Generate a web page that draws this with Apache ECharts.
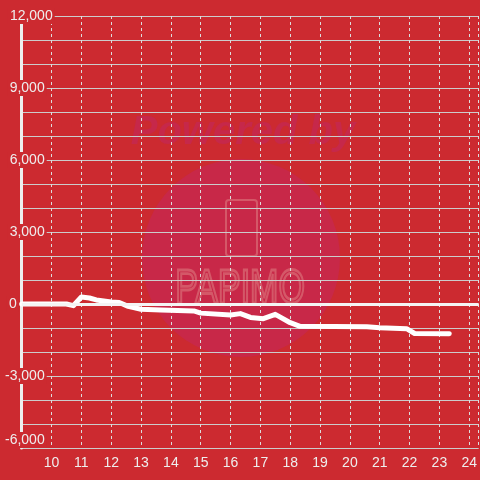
<!DOCTYPE html>
<html>
<head>
<meta charset="utf-8">
<script src="https://cdn.jsdelivr.net/npm/echarts@6/dist/echarts.min.js"></script>
<style>
html,body{margin:0;padding:0;background:#cc2a30;}
#c{width:480px;height:480px;}
</style>
</head>
<body>
<div id="c"></div>
<script>
// Hours of day (decimal) and values
const times  = [9.0, 10.5, 10.73, 11.0, 11.27, 11.5, 12.0, 12.27, 12.57, 13.0, 13.67, 14.77, 15.0, 16.0, 16.33, 16.67, 17.1, 17.5, 18.0, 18.33, 20.57, 21.0, 21.9, 22.17, 23.33];
const values = [0, 0, -70, 290, 250, 170, 80, 60, -100, -220, -250, -290, -380, -460, -400, -560, -610, -430, -780, -930, -950, -990, -1030, -1230, -1240];
const xTicks = [10, 11, 12, 13, 14, 15, 16, 17, 18, 19, 20, 21, 22, 23, 24];
const yLabelValues = [-6000, -3000, 0, 3000, 6000, 9000, 12000];

const BG = '#cc2a30';
const FONT = 'Liberation Sans, Arial, sans-serif';
const chart = echarts.init(document.getElementById('c'), null, {renderer: 'canvas'});

const option = {
  backgroundColor: BG,
  animation: false,
  grid: {left: 20.5, right: 0, top: 16, bottom: 32, containLabel: false},
  graphic: {
    elements: [
      {type: 'circle', shape: {cx: 241, cy: 258, r: 99}, style: {fill: '#c82848'}, z: -10, silent: true},
      {type: 'text', x: 243, y: 133, z: -10, silent: true,
        style: {text: 'Powered by', fill: '#c6284a', font: 'italic bold 40px ' + FONT, align: 'center', verticalAlign: 'middle'}},
      {type: 'rect', shape: {x: 226, y: 200, width: 31, height: 56, r: 3}, z: -10, silent: true,
        style: {fill: 'none', stroke: '#d45868', lineWidth: 2}},
      {type: 'text', x: 240, y: 290, scaleY: 1.4, z: -10, silent: true,
        style: {text: 'PAPIMO', fill: 'none', stroke: '#d45868', lineWidth: 2, font: '34px ' + FONT, align: 'center', verticalAlign: 'middle'}}
    ]
  },
  xAxis: {
    type: 'value',
    min: 9,
    max: 24.317,
    interval: 1,
    axisLine: {show: false},
    axisTick: {show: false},
    axisLabel: {
      showMinLabel: false,
      showMaxLabel: false,
      color: '#eeeeee',
      fontSize: 14,
      fontFamily: FONT,
      margin: 8,
      formatter: function (v) { return xTicks.indexOf(v) >= 0 ? String(v) : ''; }
    },
    splitLine: {show: true, lineStyle: {color: '#dddddd', width: 1, type: [3, 3]}}
  },
  yAxis: {
    type: 'value',
    min: -6000,
    max: 12000,
    interval: 1000,
    axisLine: {show: true, lineStyle: {color: '#eeeeee', width: 3}},
    axisTick: {show: false},
    axisLabel: {
      color: '#eeeeee',
      fontSize: 14,
      fontFamily: FONT,
      align: 'right',
      margin: -33,
      verticalAlignMinLabel: 'bottom',
      formatter: function (v) {
        if (yLabelValues.indexOf(v) < 0) return '';
        const s = v.toLocaleString('en-US');
        if (v === 12000) return '{t|' + s + '}';
        if (v === 0) return '{t|0}{g0|}';
        return '{t|' + s + '}{g|}';
      },
      rich: {
        t: {backgroundColor: BG, padding: [1, 2, 1, 2], color: '#eeeeee', fontSize: 14, fontFamily: FONT},
        g: {width: 8},
        g0: {width: 36}
      }
    },
    splitLine: {show: true, lineStyle: {color: '#cccccc', width: 1}}
  },
  series: [{
    type: 'line',
    data: times.map(function (t, i) { return [t, values[i]]; }),
    showSymbol: false,
    smooth: false,
    lineStyle: {color: '#ffffff', width: 5, cap: 'round', join: 'round'},
    markLine: {
      silent: true,
      symbol: 'none',
      label: {show: false},
      lineStyle: {color: '#f4f4f4', width: 3, type: 'solid'},
      data: [{yAxis: 0}]
    }
  }]
};
chart.setOption(option);
</script>
</body>
</html>
